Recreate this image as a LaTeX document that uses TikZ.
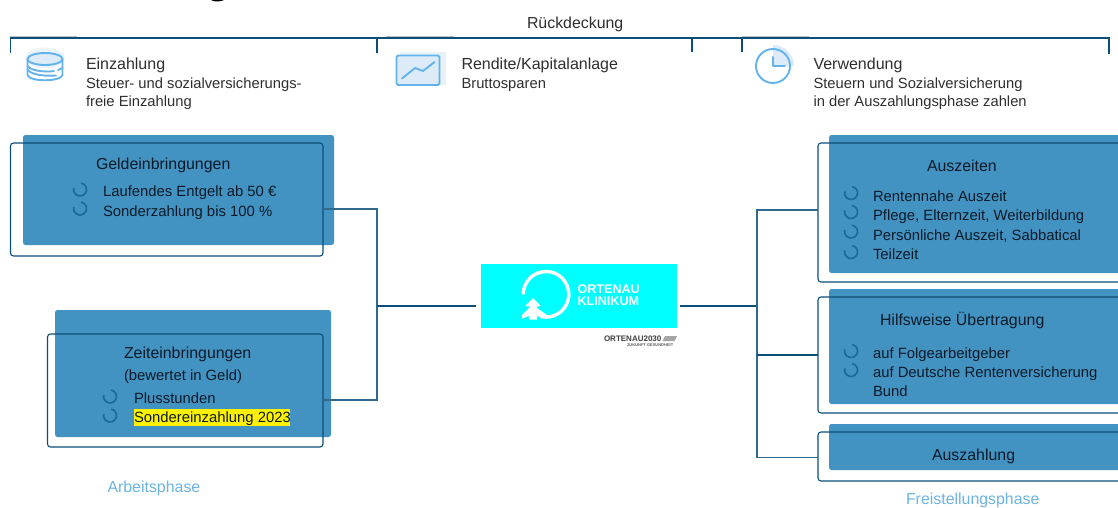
\documentclass[tikz,border=0pt]{standalone}
\usepackage{fontspec}
\setmainfont{Liberation Sans}
\definecolor{navy}{HTML}{0B4F78}
\definecolor{boxblue}{HTML}{4393C2}
\definecolor{icon}{HTML}{62B3EC}
\definecolor{iconl}{HTML}{DCEBF7}
\definecolor{spin}{HTML}{1B6A96}
\definecolor{txt}{HTML}{2E2E2E}
\definecolor{dtxt}{HTML}{0B1A28}
\definecolor{phase}{HTML}{6CB4E4}
\definecolor{logoc}{HTML}{00FFFF}
\tikzset{
  x=1pt,y=-1pt,
  fillbox/.style={draw=none,fill=boxblue,rounded corners=2.5pt,anchor=north west,inner sep=0pt,outer sep=0pt},
  outl/.style={draw=navy,line width=1.1pt,rounded corners=3pt,anchor=north west,inner sep=0pt,outer sep=0pt},
  conn/.style={draw=navy!85,line width=1.1pt},
  bracket/.style={draw=navy,line width=1.6pt},
  lbl/.style={anchor=base west,inner sep=0pt,outer sep=0pt},
  hd/.style={lbl,text=txt,font=\fontsize{16}{18}\selectfont},
  sb/.style={lbl,text=txt,font=\fontsize{14.75}{18}\selectfont},
  bt/.style={lbl,text=dtxt,font=\fontsize{15.9}{18}\selectfont},
  it/.style={lbl,text=dtxt,font=\fontsize{14.85}{18}\selectfont},
  ph/.style={lbl,text=phase,font=\fontsize{15.9}{18}\selectfont},
  spinner/.style={draw=spin,line width=1.7pt},
  iconline/.style={draw=icon,line width=1.9pt,line cap=round,line join=round},
}
% angles run clockwise on screen because the y axis points down
\newcommand{\spinat}[2]{\draw[spinner] (#1,#2) ++(-80:6.5) arc[start angle=-80,end angle=195,radius=6.5];}
\begin{document}
\begin{tikzpicture}
\useasboundingbox (0,0) rectangle (1118,507);
\fill[white] (0,0) rectangle (1118,507);
% clipped glyph at the top edge
\fill[black] (211,0) .. controls (214,2) and (220,2) .. (224,0) -- cycle;
% faint tab shadows
\foreach \a/\b in {10/77,386/454,742/809}{\draw[gray!50,line width=.8pt] (\a,36.6) -- (\b,36.6);}
% top bracket
\coordinate (bA) at (10.5,53); \coordinate (bAt) at (10.5,38);
\coordinate (bB) at (377,53);  \coordinate (bBt) at (377,38);
\coordinate (bC) at (692,52);  \coordinate (bCt) at (692,38);
\coordinate (bD) at (742,52);  \coordinate (bDt) at (742,38);
\coordinate (bE) at (1109,54); \coordinate (bEt) at (1109,38);
\draw[bracket] (bA) -- (bAt) -- (bEt) -- (bE);
\draw[bracket] (bB) -- (bBt);
\draw[bracket] (bC) -- (bCt);
\draw[bracket,line width=1.2pt] (bD) -- (bDt);
\node[lbl,text=txt,font=\fontsize{15.9}{18}\selectfont] (rd) at (527,28) {Rückdeckung};
% icon database
\fill[iconl!55] (45,58) ellipse[x radius=20,y radius=10.5];
\fill[iconl] (45,59) ellipse[x radius=17.5,y radius=6];
\draw[iconline] (45,59) ellipse[x radius=17.5,y radius=6];
\draw[iconline] (27.5,59) -- (27.5,75) .. controls (29,82) and (61,82) .. (62.5,75) -- (62.5,59);
\draw[iconline] (27.5,66) .. controls (32,72) and (50,72) .. (54,71);
\draw[iconline] (58,70) -- (62.5,68);
\draw[iconline] (27.5,70) .. controls (34,76) and (48,76) .. (56,75.5);
% icon chart
\fill[iconl!70] (400,52) rectangle (446,85);
\fill[iconl] (396.5,55.5) rectangle (439.5,85);
\draw[iconline,rounded corners=1.5pt] (396.5,55.5) rectangle (439.5,85);
\draw[iconline] (402,78.5) -- (415,68) -- (423,71) -- (434.5,62);
% icon clock
\fill[iconl] (773,66) -- (773,45) arc[start angle=-90,end angle=0,radius=21] -- cycle;
\draw[iconline] (773,66) circle[radius=17];
\draw[iconline] (773,57) -- (773,66) -- (785,66);
\node[hd] (t1) at (86,69) {Einzahlung};
\node[sb] (s1a) at (86,88) {Steuer- und sozialversicherungs-};
\node[sb] (s1b) at (86,106) {freie Einzahlung};
\node[hd] (t2) at (461.5,69) {Rendite/Kapitalanlage};
\node[sb] (s2a) at (461.5,88) {Bruttosparen};
\node[hd] (t3) at (813.5,69) {Verwendung};
\node[sb] (s3a) at (813.5,88) {Steuern und Sozialversicherung};
\node[sb] (s3b) at (813.5,106) {in der Auszahlungsphase zahlen};
% filled boxes
\node[fillbox,minimum width=311pt,minimum height=110pt] (f1) at (23,135) {};
\node[fillbox,minimum width=276pt,minimum height=127pt] (f2) at (55,310) {};
\node[fillbox,minimum width=300pt,minimum height=138pt] (f3) at (829,135) {};
\node[fillbox,minimum width=300pt,minimum height=115pt] (f4) at (829,289) {};
\node[fillbox,minimum width=300pt,minimum height=46pt] (f5) at (829,424) {};
% outlines
\node[outl,minimum width=312.5pt,minimum height=113pt] (o1) at (10.5,143) {};
\node[outl,minimum width=275.5pt,minimum height=113pt] (o2) at (47.5,334) {};
\node[outl,minimum width=312pt,minimum height=139pt] (o3) at (818,143) {};
\node[outl,minimum width=312pt,minimum height=116pt] (o4) at (818,297) {};
\node[outl,minimum width=312pt,minimum height=49pt] (o5) at (818,432) {};
% logo
\node[fill=logoc,anchor=north west,inner sep=0pt,outer sep=0pt,minimum width=196pt,minimum height=64pt] (logo) at (481,264) {};
\draw[white,line width=3.4pt] (523.2,294.3) arc[start angle=-180,end angle=104,radius=22.8];
\fill[white] (533,298) -- (541,306) -- (537,306.5) -- (537,308) -- (547,315) -- (547,318.5) -- (537,316) -- (537,319.5) -- (529,319.5) -- (529,316) -- (522,318.5) -- (522,315) -- (529,308) -- (529,306.5) -- (525,306) -- cycle;
\node[lbl,text=white,font=\bfseries\fontsize{12.6}{14}\selectfont] (lg1) at (577.5,293.5) {ORTENAU};
\node[lbl,text=white,font=\bfseries\fontsize{12.6}{14}\selectfont] (lg2) at (577.5,305.5) {KLINIKUM};
\node[lbl,text=black!75,font=\bfseries\fontsize{8}{8}\selectfont] (lg3) at (604,341) {ORTENAU2030};
\node[lbl,text=black!65,font=\bfseries\fontsize{4}{4}\selectfont] (lg4) at (627,346) {ZUKUNFT GESUNDHEIT};
\fill[black!35] (665,336) -- (677,336) -- (674.5,341) -- (662.5,341) -- cycle;
% connectors
\coordinate (jl) at (377,306);
\coordinate (jr) at (757,306);
\coordinate (jl1) at (377,209);
\coordinate (jl2) at (377,400);
\coordinate (jr1) at (757,210);
\coordinate (jr2) at (757,355);
\coordinate (jr3) at (757,457.5);
\draw[conn] (o1.east |- jl1) -- (jl1) -- (jl2) -- (o2.east |- jl2);
\draw[conn,draw=navy,line width=1.6pt,shorten >=5pt] (jl) -- (logo.west |- jl);
\draw[conn,draw=navy,line width=1.6pt,shorten <=3pt] (logo.east |- jr) -- (jr);
\draw[conn] (o3.west |- jr1) -- (jr1) -- (jr3) -- (o5.west |- jr3);
\draw[conn,draw=navy,line width=1.5pt] (jr2) -- (o4.west |- jr2);
% text box 1
\node[bt] (b1) at (96,169) {Geldeinbringungen};
\spinat{80}{189.5}\spinat{80}{208.5}
\node[it] (b1a) at (103,196) {Laufendes Entgelt ab 50 €};
\node[it] (b1b) at (103,216) {Sonderzahlung bis 100 \%};
% text box 2
\node[bt] (b2) at (124,358) {Zeiteinbringungen};
\node[it] (b2s) at (124,380) {(bewertet in Geld)};
\spinat{110}{396.5}\spinat{110}{415.5}
\node[it] (b2a) at (134,403) {Plusstunden};
\fill[yellow] (134,409) rectangle (290,426);
\node[it] (b2b) at (134,422) {Sondereinzahlung 2023};
\node[ph] (pa) at (107.5,492.7) {Arbeitsphase};
% text box 3
\node[bt] (b3) at (927,171) {Auszeiten};
\spinat{851}{193}\spinat{851}{212}\spinat{851}{231.5}\spinat{851}{252}
\node[it] (b3a) at (873,201) {Rentennahe Auszeit};
\node[it] (b3b) at (873,220) {Pflege, Elternzeit, Weiterbildung};
\node[it] (b3c) at (873,240) {Persönliche Auszeit, Sabbatical};
\node[it] (b3d) at (873,259) {Teilzeit};
% text box 4
\node[bt] (b4) at (880,325) {Hilfsweise Übertragung};
\spinat{851}{351}\spinat{851}{370}
\node[it] (b4a) at (873,358) {auf Folgearbeitgeber};
\node[it] (b4b) at (873,377) {auf Deutsche Rentenversicherung};
\node[it] (b4c) at (873,396) {Bund};
% text box 5
\node[bt] (b5) at (932,460) {Auszahlung};
\node[ph] (pf) at (906,504) {Freistellungsphase};
\end{tikzpicture}
\end{document}
